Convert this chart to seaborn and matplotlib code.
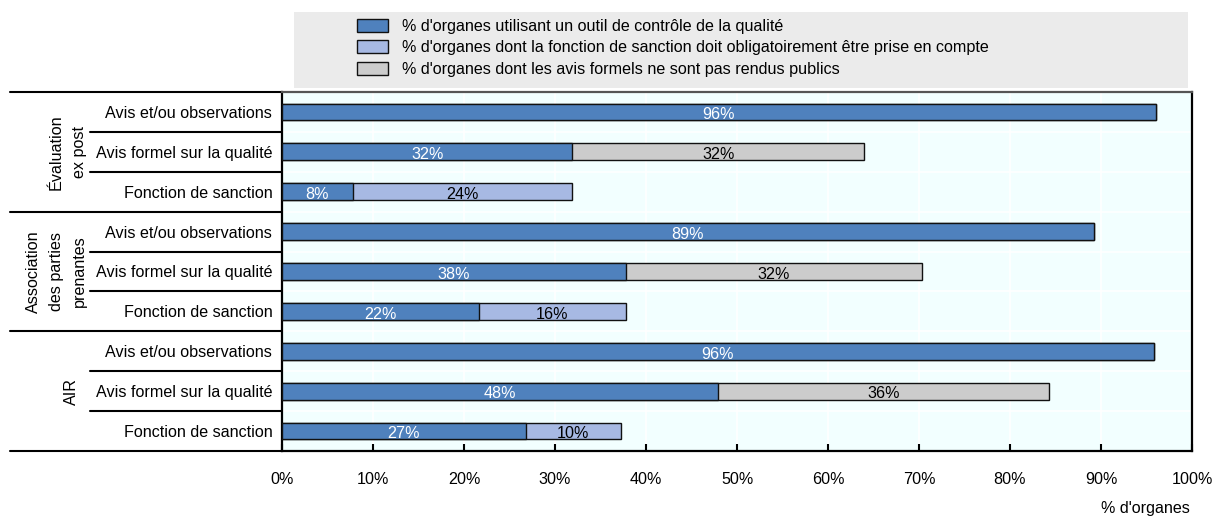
import matplotlib
matplotlib.use("Agg")
import matplotlib.pyplot as plt
import matplotlib.transforms as mtransforms
from matplotlib.patches import Patch, Rectangle
from matplotlib.ticker import FixedLocator
import seaborn as sns
import pandas as pd
import numpy as np

# ---------------- data ----------------
groups = ["Évaluation\nex post", "Association\ndes parties\nprenantes", "AIR"]
row_labels = ["Avis et/ou observations", "Avis formel sur la qualité", "Fonction de sanction"] * 3
quality_tool = [96.0, 31.9, 7.8, 89.2, 37.8, 21.6, 95.8, 47.9, 26.8]
sanction_mandatory = [0, 0, 24.1, 0, 0, 16.2, 0, 0, 10.4]
not_public = [0, 32.1, 0, 0, 32.5, 0, 0, 36.4, 0]
series_names = [
    "% d'organes utilisant un outil de contrôle de la qualité",
    "% d'organes dont la fonction de sanction doit obligatoirement être prise en compte",
    "% d'organes dont les avis formels ne sont pas rendus publics",
]
x_ticks = [0, 10, 20, 30, 40, 50, 60, 70, 80, 90, 100]
x_label = "% d'organes"

# ---------------- style ----------------
c_blue = "#4F81BD"
c_light = "#A7B9E3"
c_gray = "#CCCCCC"
bg = "#F2FFFF"

sns.set_style("white")
plt.rcParams["font.family"] = ["Liberation Sans", "DejaVu Sans"]
for k in ["text.color", "axes.labelcolor", "xtick.color", "ytick.color"]:
    plt.rcParams[k] = "black"
FS = 11.6

W, H = 1214, 517
fig = plt.figure(figsize=(W / 100, H / 100), dpi=100)
ax = fig.add_axes([282 / W, 1 - 451 / H, (1192 - 282) / W, (451 - 92) / H])
ax.set_facecolor(bg)

keys = [f"r{i}" for i in range(len(row_labels))]
df = pd.DataFrame({
    "key": keys,
    "blue": quality_tool,
    "total": [a + b + c for a, b, c in zip(quality_tool, sanction_mandatory, not_public)],
    "has_sanction": [b > 0 for b in sanction_mandatory],
})
df_s = df[df["has_sanction"]]
df_g = df[~df["has_sanction"]]

bw = 0.42
common = dict(y="key", order=keys, orient="h", width=bw, edgecolor="#111111",
              linewidth=1.0, errorbar=None, ax=ax, saturation=1)
sns.barplot(data=df_g, x="total", color=c_gray, zorder=3, **common)
sns.barplot(data=df_s, x="total", color=c_light, zorder=3, **common)
sns.barplot(data=df, x="blue", color=c_blue, zorder=4, **common)

# value labels
dy = 0.07
for i in range(len(keys)):
    b = quality_tool[i]
    ax.text(b / 2, i + dy, f"{round(b):d}%", ha="center", va="center",
            color="white", fontsize=FS, zorder=6)
    second = sanction_mandatory[i] if sanction_mandatory[i] > 0 else not_public[i]
    if second > 0:
        ax.text(b + second / 2, i + dy, f"{round(second):d}%", ha="center", va="center",
                color="black", fontsize=FS, zorder=6)

ax.set_xlim(0, 100)
ax.set_ylim(len(keys) - 0.5, -0.5)
ax.xaxis.set_major_locator(FixedLocator(x_ticks))
ax.set_xticklabels([f"{t}%" for t in x_ticks], fontsize=FS)
ax.set_yticks(range(len(keys)))
ax.set_yticklabels(row_labels, fontsize=FS)
ax.set_xlabel("")
ax.set_ylabel("")
ax.yaxis.set_minor_locator(FixedLocator(np.arange(0.5, len(keys) - 0.5, 1)))
ax.grid(True, axis="x", which="major", color="white", linewidth=1.2, zorder=0)
ax.grid(True, axis="y", which="minor", color="white", linewidth=1.2, zorder=0)
ax.set_axisbelow(True)
ax.tick_params(axis="x", which="major", direction="in", length=5, width=1.5,
               pad=15, colors="black", bottom=True)
ax.tick_params(axis="y", which="both", length=0, pad=7)
for s in ["left", "right", "bottom"]:
    ax.spines[s].set_color("black")
    ax.spines[s].set_linewidth(1.6)
ax.spines["top"].set_color("#555555")
ax.spines["top"].set_linewidth(1.6)

# left table lines
tr = mtransforms.blended_transform_factory(fig.transFigure, ax.transData)
for yb in [-0.5, 2.5, 5.5, 8.5]:
    ax.plot([10 / W, 282 / W], [yb, yb], transform=tr, color="black", lw=1.5, clip_on=False)
for yb in [0.5, 1.5, 3.5, 4.5, 6.5, 7.5]:
    ax.plot([90 / W, 282 / W], [yb, yb], transform=tr, color="black", lw=1.5, clip_on=False)
for gi, g in enumerate(groups):
    ax.text(76 / W, gi * 3 + 1, g, transform=tr, rotation=90, rotation_mode="anchor",
            ha="center", va="baseline", multialignment="center", fontsize=FS,
            linespacing=1.7)

# legend
fig.patches.append(Rectangle((294 / W, 1 - 88 / H), (1188 - 294) / W, (88 - 12) / H,
                             transform=fig.transFigure, facecolor="#EBEBEB",
                             edgecolor="none", zorder=0))
handles = [Patch(facecolor=c, edgecolor="#111111", linewidth=1.0) for c in (c_blue, c_light, c_gray)]
fig.legend(handles, series_names, loc="upper left", bbox_to_anchor=(357 / W, 1 - 19 / H),
           frameon=False, fontsize=FS, handlelength=1.9, handleheight=0.85,
           handletextpad=0.9, labelspacing=0.4, borderpad=0, borderaxespad=0)

fig.text(1190 / W, 1 - 508 / H, x_label, ha="right", va="center", fontsize=FS)

fig.savefig("out.png", dpi=100)
